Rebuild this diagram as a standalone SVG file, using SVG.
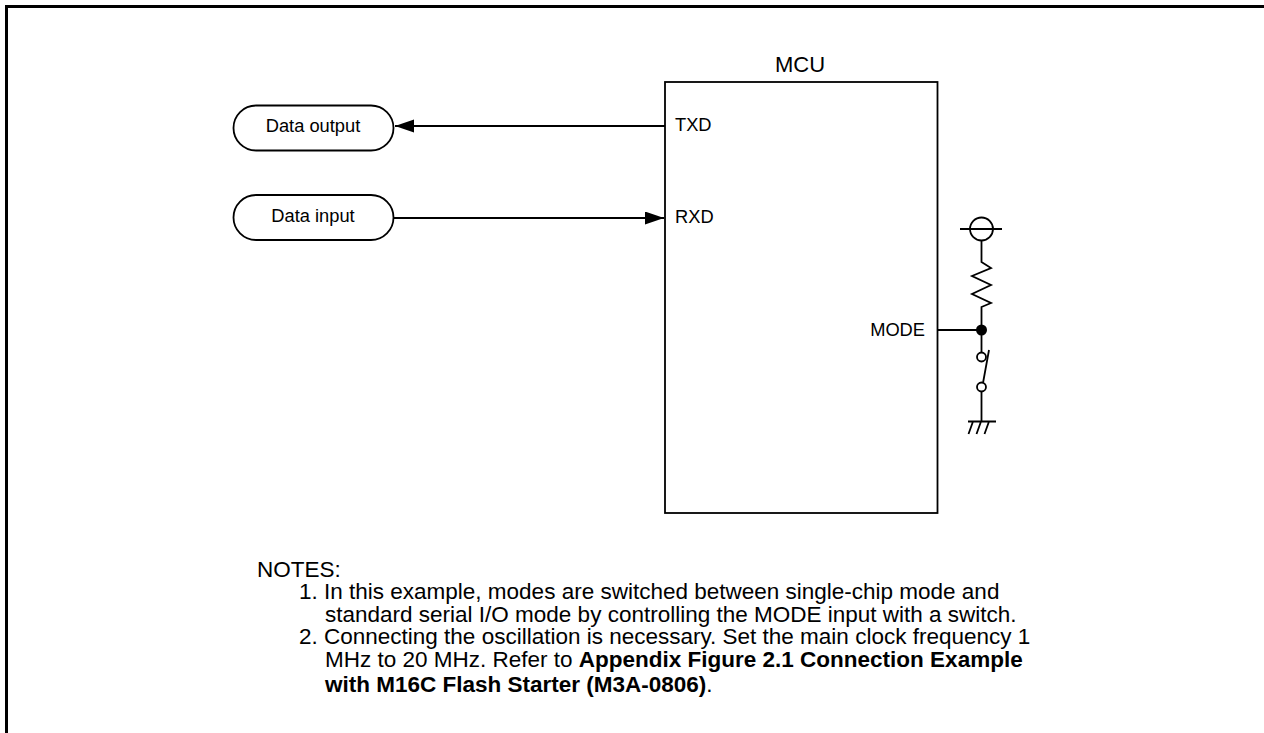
<svg xmlns="http://www.w3.org/2000/svg" width="1264" height="733" viewBox="0 0 1264 733">
<style>
text{font-family:"Liberation Sans",Arial,sans-serif;fill:#000}
.s{font-size:18.300px}
.n{font-size:22.500px}
.b{font-weight:bold}
.l{fill:none;stroke:#000;stroke-width:1.800}
.w{fill:#fff;stroke:#000;stroke-width:1.800}
</style>
<defs>
<marker id="arrow" markerUnits="userSpaceOnUse" markerWidth="20" markerHeight="14" refX="19" refY="6.500" orient="auto"><path d="M0 0L19 6.500L0 13Z" fill="#000"/></marker>
</defs>
<rect width="1264" height="733" fill="#fff"/>
<path id="frame" d="M6.500 733V6.500H1264" fill="none" stroke="#000" stroke-width="3"/>
<g id="connectors">
<path class="l" d="M665 126H395" marker-end="url(#arrow)"/>
<path class="l" d="M394 218H664" marker-end="url(#arrow)"/>
<path class="l" d="M938 330H981"/>
</g>
<g id="mcu">
<rect class="l" x="665" y="82" width="272.500" height="431"/>
<text x="800" y="72" text-anchor="middle" font-size="22">MCU</text>
<text class="s" x="675" y="131">TXD</text>
<text class="s" x="675" y="223">RXD</text>
<text class="s" x="925" y="336" text-anchor="end">MODE</text>
</g>
<g id="data-output">
<rect class="w" x="233.500" y="105.500" width="160" height="45" rx="22.500"/>
<text class="s" x="313" y="132" text-anchor="middle">Data output</text>
</g>
<g id="data-input">
<rect class="w" x="233.500" y="195" width="160" height="45" rx="22.500"/>
<text class="s" x="313" y="222" text-anchor="middle">Data input</text>
</g>
<g id="mode-circuit">
<path class="l" d="M960 229H1002M981.500 241V262L991 268L972 276L991 285L972 294L991 303L981.500 307V353M981.500 391V421M968 421.500H996M968.500 434L973 421.500M976.500 434L981 421.500M984.500 434L989 421.500M989 350L983 383"/>
<circle class="l" cx="981.500" cy="229" r="11.500"/>
<circle cx="981.500" cy="330" r="5.500" fill="#000"/>
<circle class="w" cx="981.500" cy="357" r="4.500"/>
<circle class="w" cx="981.500" cy="387" r="4.500"/>
</g>
<g id="notes">
<text class="n" x="257" y="577">NOTES:</text>
<text class="n" x="299" y="599">1. In this example, modes are switched between single-chip mode and</text>
<text class="n" x="325" y="622">standard serial I/O mode by controlling the MODE input with a switch.</text>
<text class="n" x="299" y="644">2. Connecting the oscillation is necessary. Set the main clock frequency 1</text>
<text class="n" x="325" y="667">MHz to 20 MHz. Refer to <tspan class="b">Appendix Figure 2.1 Connection Example</tspan></text>
<text class="n" x="325" y="692"><tspan class="b">with M16C Flash Starter (M3A-0806)</tspan>.</text>
</g>
</svg>
